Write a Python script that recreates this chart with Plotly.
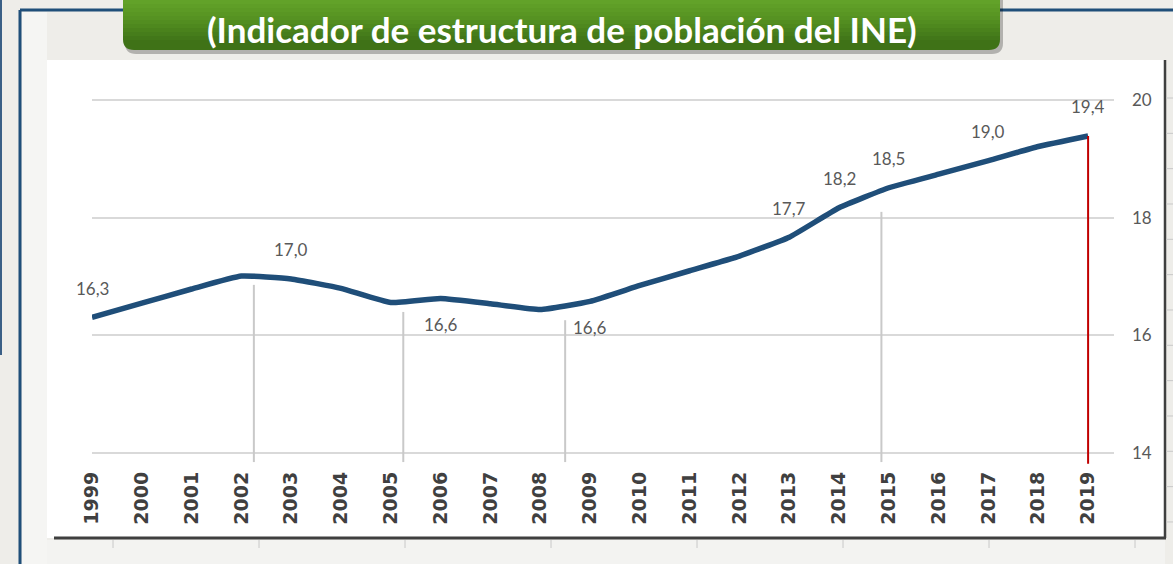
import plotly.graph_objects as go

# series
years = list(range(1999, 2020))
values = [16.31, 16.55, 16.79, 17.01, 16.96, 16.80, 16.56, 16.63, 16.54, 16.44, 16.58,
          16.85, 17.10, 17.35, 17.67, 18.17, 18.51, 18.74, 18.97, 19.21, 19.39]
tick_labels = [str(y) for y in years]
y_ticks = [14, 16, 18, 20]

# which points carry a data label (year, above/below)
label_years = [1999, 2003, 2006, 2009, 2013, 2014, 2015, 2017, 2019]
label_pos = ['above', 'above', 'below', 'below', 'above', 'above', 'above', 'above', 'above']

title = '(Indicador de estructura de población del INE)'

W, H = 1173, 564


def px(x):
    return x / W


def py(y):
    return 1 - y / H


fig = go.Figure()

fig.add_trace(go.Scatter(
    x=years, y=values, mode='lines',
    line=dict(color='#1f4e79', width=5.5, shape='spline', smoothing=0.4),
    cliponaxis=False, hoverinfo='skip', showlegend=False,
))

shapes = []

# slide background pieces
shapes.append(dict(type='rect', xref='paper', yref='paper', x0=px(22), x1=px(47), y0=py(564), y1=py(12),
                   fillcolor='#f5f5f3', line_width=0, layer='below'))
shapes.append(dict(type='rect', xref='paper', yref='paper', x0=px(47), x1=px(1165), y0=py(538), y1=py(60),
                   fillcolor='white', line_width=0, layer='below'))
shapes.append(dict(type='rect', xref='paper', yref='paper', x0=px(47), x1=px(1165), y0=py(564), y1=py(540),
                   fillcolor='#f3f3f1', line_width=0, layer='below'))
# frame lines
shapes.append(dict(type='line', xref='paper', yref='paper', x0=px(20), x1=px(1173), y0=py(10), y1=py(10),
                   line=dict(color='#1f4e79', width=3), layer='below'))
shapes.append(dict(type='line', xref='paper', yref='paper', x0=px(20), x1=px(20), y0=py(10), y1=py(564),
                   line=dict(color='#1f4e79', width=3), layer='below'))
shapes.append(dict(type='line', xref='paper', yref='paper', x0=px(1), x1=px(1), y0=py(0), y1=py(355),
                   line=dict(color='#3a5f86', width=2), layer='below'))
# chart box border
shapes.append(dict(type='line', xref='paper', yref='paper', x0=px(54), x1=px(1166), y0=py(538), y1=py(538),
                   line=dict(color='#3f3f3f', width=3)))
shapes.append(dict(type='line', xref='paper', yref='paper', x0=px(1165), x1=px(1165), y0=py(60), y1=py(538),
                   line=dict(color='#3f3f3f', width=2.5)))
for k in range(8):
    xx = 113 + 146 * k
    shapes.append(dict(type='line', xref='paper', yref='paper', x0=px(xx), x1=px(xx), y0=py(540), y1=py(548),
                       line=dict(color='#c8c8c8', width=1)))
for k in range(13):
    yy = 98 + 35.33 * k
    shapes.append(dict(type='line', xref='paper', yref='paper', x0=px(1166), x1=px(1173), y0=py(yy), y1=py(yy),
                       line=dict(color='#c8c8c8', width=1)))

# vertical separator lines drawn on the slide
for xv, ytop in [(2002.25, 16.86), (2005.25, 16.4), (2008.5, 16.26), (2014.85, 18.1)]:
    shapes.append(dict(type='line', xref='x', yref='y', x0=xv, x1=xv, y0=ytop, y1=13.85,
                       line=dict(color='#c9c9c9', width=2)))
# red marker at the last year
shapes.append(dict(type='line', xref='x', yref='y', x0=years[-1], x1=years[-1], y0=values[-1], y1=13.82,
                   line=dict(color='#c00000', width=2)))


# green title banner with rounded bottom corners
def banner_path(x0, x1, y0, y1, r):
    return (f'M {px(x0)},{py(y0)} L {px(x1)},{py(y0)} L {px(x1)},{py(y1 - r)} '
            f'Q {px(x1)},{py(y1)} {px(x1 - r)},{py(y1)} L {px(x0 + r)},{py(y1)} '
            f'Q {px(x0)},{py(y1)} {px(x0)},{py(y1 - r)} Z')


shapes.append(dict(type='path', xref='paper', yref='paper', path=banner_path(125, 1003, -2, 54, 11),
                   fillcolor='rgba(0,0,0,0.25)', line_width=0))
shapes.append(dict(type='path', xref='paper', yref='paper', path=banner_path(123, 1000, -2, 50, 11),
                   fillcolor='#3f7217', line_width=0))
greens = ['#62a229', '#5f9e27', '#5c9a25', '#599623', '#569222', '#528d20', '#4e881e', '#4a821c', '#467d1b', '#427719']
for i, g in enumerate(greens):
    shapes.append(dict(type='rect', xref='paper', yref='paper', x0=px(123), x1=px(1000),
                       y0=py(4 * i), y1=py(4 * i + 4), fillcolor=g, line_width=0))

annotations = [dict(text=f'<b>{title}</b>', xref='paper', yref='paper', x=px(562), y=py(29),
                    showarrow=False, font=dict(family='Lato', size=35, color='white'),
                    xanchor='center', yanchor='middle')]

for yr, pos in zip(label_years, label_pos):
    v = values[years.index(yr)]
    annotations.append(dict(
        text=f'{v:.1f}'.replace('.', ','), x=yr, y=v, xref='x', yref='y', showarrow=False,
        yshift=29 if pos == 'above' else -26,
        font=dict(family='Lato', size=17, color='#595959'),
    ))

fig.update_layout(
    width=W, height=H,
    margin=dict(l=0, r=0, t=0, b=0),
    paper_bgcolor='#eeede9',
    plot_bgcolor='rgba(0,0,0,0)',
    shapes=shapes,
    annotations=annotations,
    xaxis=dict(
        domain=[px(92), px(1114)],
        range=[1999, 2019.52],
        tickmode='array', tickvals=years, ticktext=[f'<b>{t}</b>' for t in tick_labels],
        tickangle=-90, tickfont=dict(family='DejaVu Sans', size=19, color='#404040'),
        showgrid=False, zeroline=False, showline=False, ticks='',
        ticklabelstandoff=2, automargin=False, fixedrange=True,
    ),
    yaxis=dict(
        domain=[py(465), py(60)],
        range=[13.8, 20.68],
        side='right',
        tickmode='array', tickvals=y_ticks,
        tickfont=dict(family='Lato', size=17, color='#595959'),
        gridcolor='#d9d9d9', gridwidth=1.5,
        zeroline=False, showline=False, ticks='',
        ticklabelstandoff=17, automargin=False, fixedrange=True,
    ),
)

# the page keeps the browser's default body margin; drop it so the figure fills the window
fig.write_html('out.html', config={'displayModeBar': False},
               post_script="document.body.style.margin='0';")
